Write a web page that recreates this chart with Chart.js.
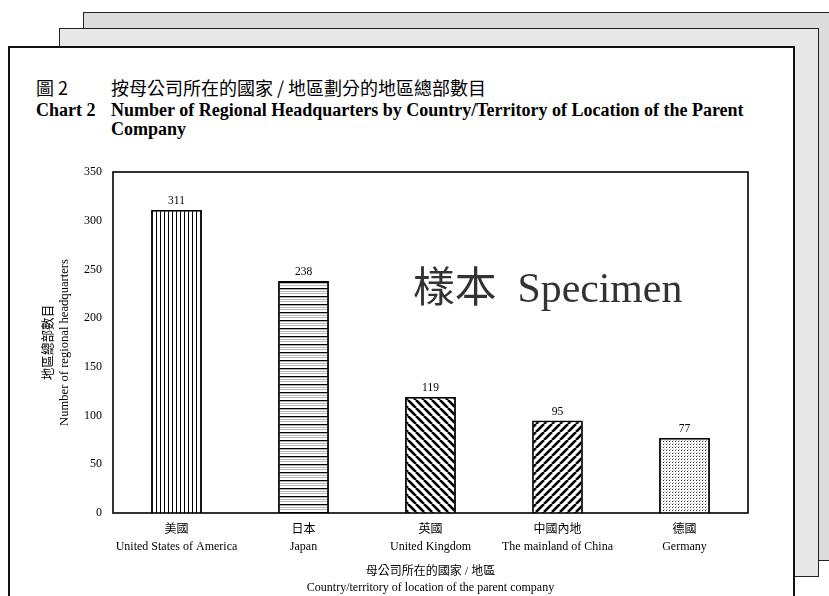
<!DOCTYPE html>
<html>
<head>
<meta charset="utf-8">
<script src="https://cdn.jsdelivr.net/npm/chart.js@4/dist/chart.umd.min.js"></script>
<style>
  html,body{margin:0;padding:0;background:#fff;}
  #wrap{position:relative;width:829px;height:596px;overflow:hidden;background:#fff;}
  .page{position:absolute;box-sizing:border-box;}
  #p3{left:83px;top:12px;width:800px;height:549px;background:#dcdcdc;border:1.5px solid #222;}
  #p2{left:59px;top:28px;width:760px;height:549px;background:#e8e8e8;border:1.5px solid #222;}
  #p1{left:8px;top:46px;width:787px;height:600px;background:#fff;border:2px solid #111;}
  .t{position:absolute;white-space:nowrap;color:#000;line-height:20px;}
  .zh{font-family:'Noto Sans CJK TC','Noto Sans CJK SC',sans-serif;font-size:18px;}
  .en{font-family:'Liberation Serif','Times New Roman',serif;font-weight:bold;font-size:18px;}
  #wm{position:absolute;left:413px;top:254px;font-family:'Liberation Serif','Noto Sans CJK TC',serif;font-size:41.8px;color:#333;white-space:nowrap;}
  #c{position:absolute;left:0;top:0;}
</style>
</head>
<body>
<div id="wrap">
  <div class="page" id="p3"></div>
  <div class="page" id="p2"></div>
  <div class="page" id="p1"></div>
  <div class="t zh" style="left:36px;top:77px;">圖 2</div>
  <div class="t zh" style="left:111px;top:77px;">按母公司所在的國家 / 地區劃分的地區總部數目</div>
  <div class="t en" style="left:36px;top:100px;">Chart 2</div>
  <div class="t en" style="left:111px;top:100px;">Number of Regional Headquarters by Country/Territory of Location of the Parent</div>
  <div class="t en" style="left:111px;top:119px;">Company</div>
  <canvas id="c" width="829" height="596"></canvas>
  <div id="wm">樣本&nbsp; Specimen</div>
</div>
<script>
const categoriesZh = ['美國', '日本', '英國', '中國內地', '德國'];
const categoriesEn = ['United States of America', 'Japan', 'United Kingdom', 'The mainland of China', 'Germany'];
const headquarters = [311, 238, 119, 95, 77];
const yTitle = ['地區總部數目', 'Number of regional headquarters'];
const xTitle = ['母公司所在的國家 / 地區', 'Country/territory of location of the parent company'];

const FONT = "'Liberation Serif', 'Noto Sans CJK TC', serif";
const canvas = document.getElementById('c');
const ctx = canvas.getContext('2d');

function mkPattern(w, h, draw) {
  const pc = document.createElement('canvas');
  pc.width = w; pc.height = h;
  const g = pc.getContext('2d');
  g.fillStyle = '#fff'; g.fillRect(0, 0, w, h);
  draw(g, w, h);
  return ctx.createPattern(pc, 'repeat');
}
const patVert = mkPattern(4, 4, g => { g.fillStyle = '#000'; g.fillRect(0, 0, 1, 4); });
const patHorz = mkPattern(4, 8, g => {
  g.fillStyle = '#000'; g.fillRect(0, 0, 4, 1.3);
  g.fillStyle = '#b8b8b8'; g.fillRect(0, 3, 4, 1); g.fillRect(0, 5, 4, 1);
});
const patBack = mkPattern(8, 8, g => {
  g.strokeStyle = '#000'; g.lineWidth = 2.6;
  for (const k of [-8, 0, 8]) { g.beginPath(); g.moveTo(k, 0); g.lineTo(k + 8, 8); g.stroke(); }
});
const patFwd = mkPattern(8, 8, g => {
  g.strokeStyle = '#000'; g.lineWidth = 2.6;
  for (const k of [-8, 0, 8]) { g.beginPath(); g.moveTo(k, 8); g.lineTo(k + 8, 0); g.stroke(); }
});
const patDots = mkPattern(3, 3, g => { g.fillStyle = '#333'; g.fillRect(0, 0, 1, 1); g.fillStyle = '#bbb'; g.fillRect(1, 2, 1, 1); });

const frame = {
  id: 'frame',
  afterDraw(chart) {
    const a = chart.chartArea, c = chart.ctx;
    c.save(); c.strokeStyle = '#000'; c.lineWidth = 1.6;
    c.strokeRect(a.left, a.top, a.right - a.left, a.bottom - a.top);
    c.restore();
  }
};
const valueLabels = {
  id: 'valueLabels',
  afterDatasetsDraw(chart) {
    const c = chart.ctx, meta = chart.getDatasetMeta(0);
    c.save(); c.font = '11.5px ' + FONT; c.fillStyle = '#000';
    c.textAlign = 'center'; c.textBaseline = 'bottom';
    meta.data.forEach((bar, i) => c.fillText(String(headquarters[i]), bar.x, bar.y - 3));
    c.restore();
  }
};

new Chart(canvas, {
  type: 'bar',
  data: {
    labels: categoriesZh.map((z, i) => [z, categoriesEn[i]]),
    datasets: [{
      data: headquarters,
      backgroundColor: [patVert, patHorz, patBack, patFwd, patDots],
      borderColor: '#000',
      borderWidth: 1.8,
      barPercentage: 0.4,
      categoryPercentage: 1
    }]
  },
  options: {
    responsive: false,
    animation: false,
    events: [],
    layout: { padding: { left: 0, top: 172, right: 81, bottom: 0 } },
    plugins: { legend: { display: false }, tooltip: { enabled: false } },
    scales: {
      x: {
        grid: { display: false, drawTicks: false },
        border: { display: false },
        ticks: { color: '#000', padding: 8.5, maxRotation: 0, autoSkip: false, font: { family: FONT, size: 12, lineHeight: '17px' } },
        title: { display: true, text: xTitle, color: '#000', padding: 0, font: { family: FONT, size: 12, lineHeight: '16px' } },
        afterFit(s) { s.height = 83; }
      },
      y: {
        min: 0, max: 350,
        grid: { display: false, drawTicks: false },
        border: { display: false },
        ticks: { stepSize: 50, color: '#000', padding: 11, font: { family: FONT, size: 12 } },
        title: { display: true, text: yTitle, color: '#000', padding: { top: 41, bottom: 0 }, font: { family: FONT, size: 12.6, lineHeight: '16px' } },
        afterFit(s) { s.width = 113; }
      }
    }
  },
  plugins: [frame, valueLabels]
});
</script>
</body>
</html>
